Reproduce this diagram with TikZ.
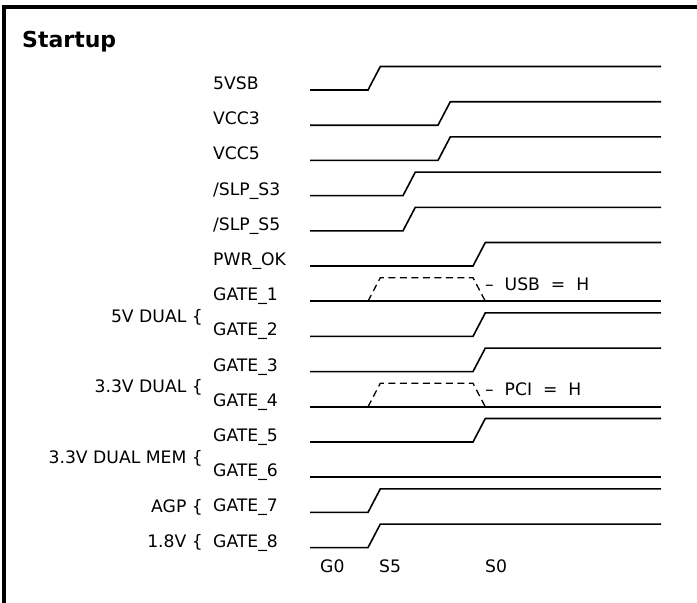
\documentclass[tikz,border=0pt]{standalone}
\usepackage{fontspec}
\setmainfont{DejaVu Sans}
\usepackage{tikz}
\tikzset{
	label/.style = {inner sep=0pt, font=\fontsize{17.2}{19}\selectfont},
	signame/.style = {label, anchor=base west},
	grpname/.style = {label, anchor=base east},
	headline/.style = {inner sep=0pt, anchor=base west, font=\fontsize{22}{24}\selectfont\bfseries},
	wave/.style = {line width=1.6pt, line join=miter},
	maybe/.style = {line width=1.3pt, dash pattern=on 7pt off 4.5pt},
	frame/.style = {line width=4pt, line join=miter}
}

\begin{document}
\begin{tikzpicture}[x=1pt, y=-1pt]
		\useasboundingbox (0,0) rectangle (697,603);
		\draw [frame] (4,603) -- (4,7) -- (697,7);
		\node [headline] (title) at (22,47) {Startup};
		% signal names
		\foreach \lbl [count=\i from 0] in {5VSB, VCC3, VCC5, /SLP\_S3, /SLP\_S5, PWR\_OK,
			GATE\_1, GATE\_2, GATE\_3, GATE\_4, GATE\_5, GATE\_6, GATE\_7, GATE\_8}
			\node [signame] (sig\i) at (213,89.5+35.2*\i) {\lbl};
		% waveforms, 0 = stays low
		\foreach \t [count=\i from 0] in {368,438,438,403,403,473,0,473,473,0,473,0,368,368}{
			\pgfmathsetmacro\yl{90+35.2*\i}
			\ifnum\t=0
				\draw [wave] (310,\yl) -- (661,\yl);
			\else
				\draw [wave] (310,\yl) -- (\t,\yl) -- ++(12.3,-23.5) -- (661,\yl-23.5);
			\fi
		}
		\draw [maybe] (368,301.2) -- (380.3,277.7) -- (473,277.7) -- (485.3,301.2);
		\draw [maybe] (368,406.8) -- (380.3,383.3) -- (473,383.3) -- (485.3,406.8);
		\node [signame] (usb) at (485,290) {--\ \ USB\ \ =\ \ H};
		\node [signame] (pci) at (485,395.6) {--\ \ PCI\ \ =\ \ H};
		% groups
		\node [grpname] (g5v) at (203,322) {5V DUAL \{};
		\node [grpname] (g33v) at (203,392.6) {3.3V DUAL \{};
		\node [grpname] (gmem) at (203,463) {3.3V DUAL MEM \{};
		\node [grpname] (gagp) at (203,512.4) {AGP \{};
		\node [grpname] (g18v) at (203,547.6) {1.8V \{};
		% states
		\node [signame] (g0) at (320,572) {G0};
		\node [signame] (s5) at (379,572) {S5};
		\node [signame] (s0) at (485,572) {S0};
\end{tikzpicture}
\end{document}
